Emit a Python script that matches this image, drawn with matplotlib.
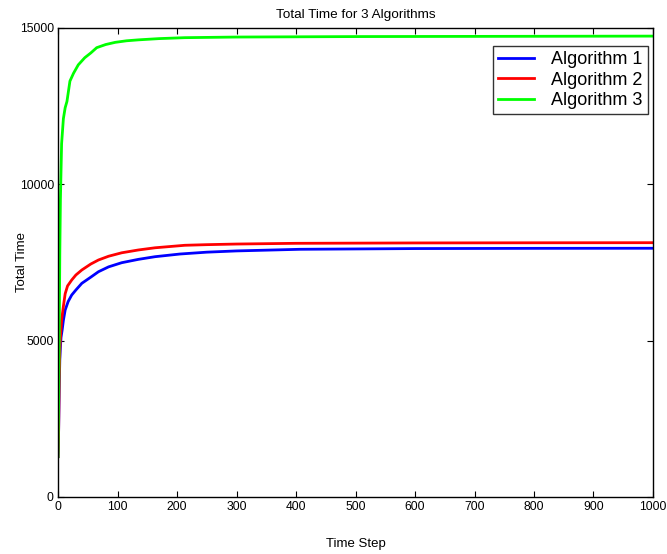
import matplotlib
matplotlib.use("Agg")
import matplotlib.pyplot as plt

plt.rcParams['font.family'] = ['Liberation Sans', 'DejaVu Sans']

t_alg1 = [0, 1, 2, 3, 4, 5, 7, 9, 12, 17, 23, 30, 40, 55, 68, 85, 107, 135, 163, 205, 250, 300, 407, 600, 800, 1000]
alg1 = [1290, 2100, 3500, 4400, 4800, 5100, 5350, 5650, 5980, 6250, 6460, 6620, 6834, 7030, 7205, 7360, 7493, 7600, 7685, 7771, 7830, 7870, 7922, 7945, 7952, 7955]

t_alg2 = [0, 1, 2, 3, 4, 6, 9, 12, 16, 23, 30, 40, 55, 68, 85, 107, 135, 163, 213, 250, 300, 400, 600, 800, 1000]
alg2 = [1290, 2100, 3800, 4700, 5100, 5650, 6100, 6500, 6750, 6940, 7100, 7260, 7450, 7580, 7700, 7810, 7900, 7970, 8050, 8070, 8090, 8113, 8125, 8130, 8133]

t_alg3 = [0, 1, 2, 3, 4, 6, 9, 12, 15, 20, 26, 34, 45, 55, 65, 80, 96, 115, 135, 170, 213, 300, 500, 1000]
alg3 = [1290, 3000, 5000, 7800, 9500, 11300, 12100, 12450, 12650, 13300, 13550, 13820, 14050, 14200, 14370, 14470, 14540, 14590, 14620, 14660, 14690, 14710, 14725, 14740]

labels = ['Algorithm 1', 'Algorithm 2', 'Algorithm 3']
colors = ['#0000ff', '#ff0000', '#00ff00']

fig = plt.figure(figsize=(6.67, 5.54), dpi=100)
ax = fig.add_axes([0.087, 0.1029, 0.892, 0.8466])

for tx, ty, lab, c in zip([t_alg1, t_alg2, t_alg3], [alg1, alg2, alg3], labels, colors):
    ax.plot(tx, ty, color=c, lw=2.0, label=lab)

ax.set_xlim(0, 1000)
ax.set_ylim(0, 15000)
ax.set_xticks(range(0, 1001, 100))
ax.set_yticks([0, 5000, 10000, 15000])
ax.tick_params(direction='in', top=True, right=True, length=4, labelsize=8.7, pad=3)
for s in ax.spines.values():
    s.set_linewidth(1.0)
ax.set_title('Total Time for 3 Algorithms', fontsize=9.7, pad=7)
ax.set_xlabel('Time Step', fontsize=9.5, labelpad=18)
ax.set_ylabel('Total Time', fontsize=9.5)
ax.yaxis.set_label_coords(-0.050, 0.5)

leg = ax.legend(loc='upper right', bbox_to_anchor=(0.992, 0.962), fontsize=13, frameon=True,
                fancybox=False, edgecolor='black', handlelength=2.0, borderpad=0.3,
                labelspacing=0.19, handletextpad=0.95, borderaxespad=0.0)
leg.get_frame().set_linewidth(1.0)

fig.savefig('out.png', dpi=100)
